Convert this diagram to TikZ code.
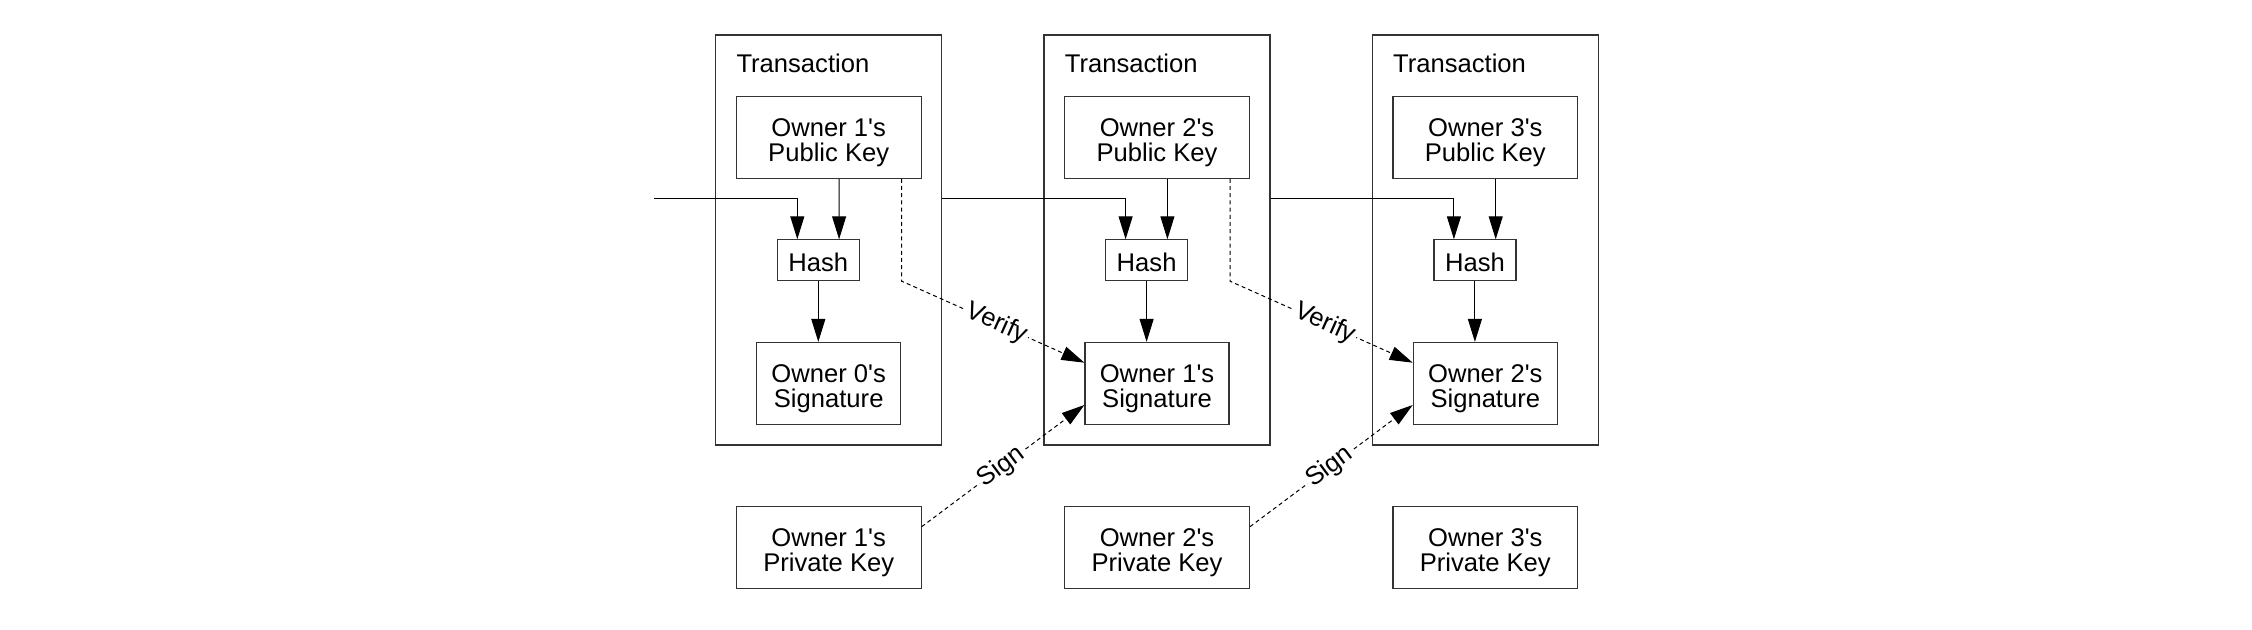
\documentclass[tikz,border=0pt]{standalone}
\usepackage{fontspec}
\setmainfont{Liberation Sans}
\usetikzlibrary{arrows.meta, positioning}
\newcommand{\apo}{\textquotesingle}

\begin{document}
\begin{tikzpicture}[x=1pt, y=1pt, font=\fontsize{12.8}{12.5}\selectfont]
        \tikzstyle{txbox} = [rectangle, draw=black!80, line width=0.6pt, minimum width=113pt, minimum height=205pt]
        \tikzstyle{keybox} = [rectangle, draw=black!80, line width=0.6pt, align=center, minimum width=92.4pt, minimum height=41pt, text height=27.5pt, text depth=3pt]
        \tikzstyle{hashbox} = [rectangle, draw=black!80, line width=0.6pt, minimum width=41pt, minimum height=20.4pt, text height=11pt, text depth=0pt]
        \tikzstyle{sigbox} = [keybox, minimum width=72pt]
        \tikzstyle{line} = [draw, line width=0.5pt, -{Triangle[length=11.5pt, width=7pt]}]
        \tikzstyle{dline} = [line, dash pattern=on 2pt off 1.6pt]
        \tikzstyle{tag} = [sloped, fill=white, inner sep=1pt]

        \useasboundingbox (0,0) rectangle (1126,315);

        % transactions
        \node [txbox] (tx1) at (414.35,195) {};
        \node [txbox] (tx2) at (578.5,195) {};
        \node [txbox] (tx3) at (742.65,195) {};
        \node [anchor=base west, inner sep=0pt] (lb1) at ([xshift=10.5pt, yshift=-19pt]tx1.north west) {Transaction};
        \node [anchor=base west, inner sep=0pt] (lb2) at ([xshift=10.5pt, yshift=-19pt]tx2.north west) {Transaction};
        \node [anchor=base west, inner sep=0pt] (lb3) at ([xshift=10.5pt, yshift=-19pt]tx3.north west) {Transaction};

        \node [keybox] (pk1) at (414.35,246.4) {Owner 1\apo s\\Public Key};
        \node [keybox] (pk2) at (578.5,246.4) {Owner 2\apo s\\Public Key};
        \node [keybox] (pk3) at (742.65,246.4) {Owner 3\apo s\\Public Key};

        \node [hashbox] (hs1) at (409.15,184.85) {Hash};
        \node [hashbox] (hs2) at (573.3,184.85) {Hash};
        \node [hashbox] (hs3) at (737.45,184.85) {Hash};

        \node [sigbox] (sg1) at (414.35,123.25) {Owner 0\apo s\\Signature};
        \node [sigbox] (sg2) at (578.5,123.25) {Owner 1\apo s\\Signature};
        \node [sigbox] (sg3) at (742.65,123.25) {Owner 2\apo s\\Signature};

        % private keys
        \node [keybox] (pv1) at (414.35,41.25) {Owner 1\apo s\\Private Key};
        \node [keybox] (pv2) at (578.5,41.25) {Owner 2\apo s\\Private Key};
        \node [keybox] (pv3) at (742.65,41.25) {Owner 3\apo s\\Private Key};

        \coordinate (in) at (327,215.5);
        \path [line] (in) -| ([xshift=-10.5pt]hs1.north);
        \path [line] ([yshift=20.5pt]tx1.east) -| ([xshift=-10.5pt]hs2.north);
        \path [line] ([yshift=20.5pt]tx2.east) -| ([xshift=-10.5pt]hs3.north);

        \path [line] ([xshift=5.2pt]pk1.south) -- ([xshift=10.4pt]hs1.north);
        \path [line] ([xshift=5.2pt]pk2.south) -- ([xshift=10.4pt]hs2.north);
        \path [line] ([xshift=5.2pt]pk3.south) -- ([xshift=10.4pt]hs3.north);

        \path [line] (hs1.south) -- (hs1.south |- sg1.north);
        \path [line] (hs2.south) -- (hs2.south |- sg2.north);
        \path [line] (hs3.south) -- (hs3.south |- sg3.north);

        % verify and sign
        \path [dline] ([xshift=-10pt]pk1.south east) -- ++(0,-51.2) -- node [tag, pos=0.52] {Verify} ([yshift=10.4pt]sg2.west);
        \path [dline] ([xshift=-10pt]pk2.south east) -- ++(0,-51.2) -- node [tag, pos=0.52] {Verify} ([yshift=10.4pt]sg3.west);
        \path [dline] ([yshift=10.4pt]pv1.east) -- node [tag, pos=0.49] {Sign} ([yshift=-10.75pt]sg2.west);
        \path [dline] ([yshift=10.4pt]pv2.east) -- node [tag, pos=0.49] {Sign} ([yshift=-10.75pt]sg3.west);
\end{tikzpicture}
\end{document}
